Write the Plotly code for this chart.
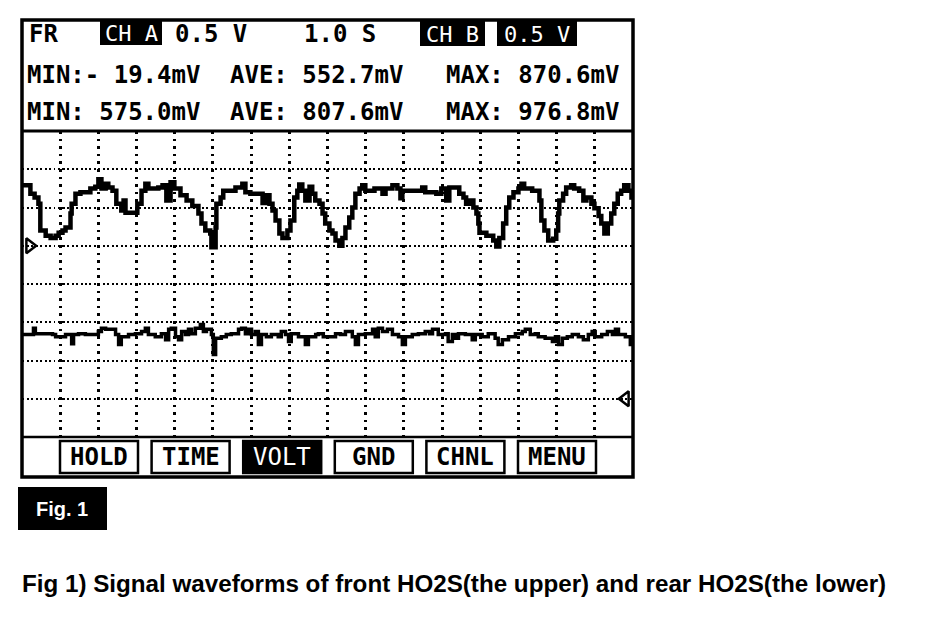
import plotly.graph_objects as go

W, H = 944, 622
PAGE_MARGIN = 8  # default body margin of the html page

# front HO2S (channel A), seconds / volts
CH_A_TIME = [0.00, 0.09, 0.20, 0.22, 0.33, 0.43, 0.48, 0.62, 0.75, 0.88, 0.96, 1.06, 1.14, 1.27, 1.30,
             1.40, 1.53, 1.74, 1.79, 1.92, 2.00, 2.08, 2.19, 2.26, 2.37, 2.47, 2.60, 2.66, 2.71, 2.97,
             3.02, 3.13, 3.23, 3.31, 3.57, 3.68, 3.78, 3.89, 3.99, 4.15, 4.31, 4.46, 4.62, 4.70, 4.80,
             4.93, 4.96, 5.07, 5.09, 5.20, 5.27, 5.43, 5.59, 5.77, 5.85, 5.98, 6.22, 6.30, 6.37, 6.48,
             6.56, 6.64, 6.74, 6.82, 6.95, 7.03, 7.13, 7.21, 7.26, 7.34, 7.42, 7.53, 7.60, 7.68, 7.79,
             7.87, 7.94, 8.05, 8.13, 8.21, 8.31, 8.39, 8.47, 8.57, 8.65, 8.73, 8.84, 8.91, 8.99, 9.23,
             9.44, 9.52, 9.70, 9.83, 9.91, 9.96, 10.30, 10.48, 10.56, 10.85, 10.98, 11.11, 11.19, 11.37,
             11.45, 11.56, 11.63, 11.71, 11.82, 11.90, 11.95, 11.98, 12.16, 12.34, 12.42, 12.50, 12.60,
             12.68, 12.76, 12.87, 13.00, 13.08, 13.15, 13.36, 13.55, 13.60, 13.68, 13.78, 13.91, 13.99,
             14.04, 14.07, 14.17, 14.25, 14.38, 14.46, 14.59, 14.70, 14.78, 14.91, 14.99, 15.10, 15.17,
             15.25, 15.34, 15.43, 15.51, 15.60, 15.69, 15.77, 15.88, 15.96, 16.00]
CH_A_VOLT = [0.79, 0.79, 0.79, 0.68, 0.63, 0.55, 0.20, 0.13, 0.10, 0.13, 0.17, 0.20, 0.24, 0.42, 0.55,
             0.68, 0.70, 0.70, 0.75, 0.77, 0.87, 0.75, 0.81, 0.76, 0.72, 0.55, 0.46, 0.59, 0.43, 0.43,
             0.55, 0.72, 0.81, 0.75, 0.76, 0.79, 0.59, 0.83, 0.75, 0.66, 0.59, 0.52, 0.42, 0.29, 0.20,
             0.16, -0.02, 0.24, 0.55, 0.63, 0.72, 0.72, 0.76, 0.81, 0.70, 0.68, 0.68, 0.56, 0.66, 0.55,
             0.46, 0.33, 0.16, 0.10, 0.20, 0.33, 0.63, 0.72, 0.80, 0.72, 0.59, 0.77, 0.68, 0.59, 0.55,
             0.42, 0.29, 0.20, 0.16, 0.07, 0.00, 0.10, 0.24, 0.37, 0.50, 0.68, 0.75, 0.79, 0.72, 0.75,
             0.68, 0.75, 0.79, 0.75, 0.62, 0.72, 0.72, 0.76, 0.70, 0.68, 0.75, 0.59, 0.76, 0.76,
             0.68, 0.63, 0.55, 0.59, 0.50, 0.42, 0.29, 0.17, 0.13, 0.07, -0.01, 0.10, 0.29,
             0.50, 0.63, 0.70, 0.75, 0.81, 0.75, 0.72, 0.59, 0.33, 0.20, 0.07, 0.09, 0.20,
             0.42, 0.59, 0.68, 0.76, 0.79, 0.75, 0.72, 0.59, 0.63, 0.55, 0.49, 0.39, 0.29,
             0.16, 0.29, 0.42, 0.55, 0.68, 0.72, 0.79, 0.72, 0.63, 0.63]

# rear HO2S (channel B), seconds / volts
CH_B_TIME = [0.00, 0.09, 0.25, 0.30, 0.35, 0.69, 0.80, 0.88, 1.03, 1.14, 1.30, 1.35, 1.48, 1.66, 1.92,
             2.00, 2.08, 2.19, 2.34, 2.45, 2.53, 2.60, 2.79, 2.97, 3.13, 3.23, 3.31, 3.49, 3.65, 3.76,
             3.84, 3.91, 4.02, 4.10, 4.18, 4.28, 4.36, 4.44, 4.54, 4.67, 4.75, 4.83, 4.96, 5.01, 5.07,
             5.22, 5.35, 5.48, 5.67, 5.75, 5.85, 5.93, 6.01, 6.11, 6.19, 6.27, 6.40, 6.53, 6.71, 6.79,
             6.90, 6.98, 7.05, 7.24, 7.42, 7.50, 7.69, 7.76, 7.89, 8.13, 8.21, 8.34, 8.47, 8.65, 8.73,
             8.81, 8.99, 9.18, 9.25, 9.33, 9.44, 9.57, 9.70, 9.86, 9.96, 10.04, 10.22, 10.38, 10.56,
             10.67, 10.75, 10.90, 11.09, 11.16, 11.27, 11.35, 11.43, 11.61, 11.79, 11.87, 12.05, 12.21,
             12.39, 12.47, 12.58, 12.74, 12.92, 13.10, 13.18, 13.31, 13.44, 13.52, 13.70, 13.89, 13.97,
             14.05, 14.15, 14.28, 14.41, 14.57, 14.70, 14.83, 14.93, 15.01, 15.18, 15.33, 15.46, 15.54,
             15.62, 15.80, 15.93, 16.00]
CH_B_VOLT = [0.84, 0.84, 0.84, 0.92, 0.85, 0.85, 0.84, 0.81, 0.81, 0.84, 0.72, 0.84, 0.85, 0.84, 0.84,
             0.88, 0.92, 0.91, 0.91, 0.84, 0.71, 0.81, 0.84, 0.85, 0.88, 0.92, 0.84, 0.81, 0.85, 0.77,
             0.91, 0.92, 0.81, 0.77, 0.88, 0.84, 0.91, 0.85, 0.92, 0.97, 0.88, 0.91, 0.84, 0.58, 0.79,
             0.81, 0.84, 0.85, 0.91, 0.92, 0.85, 0.91, 0.84, 0.88, 0.71, 0.84, 0.81, 0.84, 0.81, 0.88,
             0.84, 0.75, 0.85, 0.81, 0.71, 0.81, 0.84, 0.85, 0.81, 0.81, 0.85, 0.84, 0.88, 0.81, 0.71,
             0.84, 0.85, 0.91, 0.81, 0.92, 0.88, 0.91, 0.84, 0.81, 0.71, 0.81, 0.84, 0.85, 0.88,
             0.85, 0.91, 0.84, 0.85, 0.75, 0.84, 0.79, 0.85, 0.84, 0.77, 0.84, 0.81, 0.85,
             0.79, 0.71, 0.77, 0.81, 0.85, 0.88, 0.91, 0.84, 0.85, 0.81, 0.79, 0.75, 0.81,
             0.71, 0.79, 0.81, 0.84, 0.81, 0.77, 0.84, 0.88, 0.81, 0.84, 0.88, 0.84, 0.91,
             0.84, 0.81, 0.71, 0.71]

HEADER_LABELS = ["FR", "CH A", "0.5 V", "1.0 S", "CH B", "0.5 V"]
CH_A_STATS = ["MIN:- 19.4mV", "AVE: 552.7mV", "MAX: 870.6mV"]
CH_B_STATS = ["MIN: 575.0mV", "AVE: 807.6mV", "MAX: 976.8mV"]
BUTTONS = ["HOLD", "TIME", "VOLT", "GND", "CHNL", "MENU"]
FIG_LABEL = "Fig. 1"
CAPTION = "Fig 1) Signal waveforms of front HO2S(the upper) and rear HO2S(the lower)"

MONO = "DejaVu Sans Mono"
SANS = "Liberation Sans, Arial"


def px(x):
    return (x - PAGE_MARGIN) / W


def py(y):
    return 1 - (y - PAGE_MARGIN) / H


def rect(x0, y0, x1, y1, fill=None, width=2):
    return dict(type="rect", xref="paper", yref="paper", x0=px(x0), x1=px(x1), y0=py(y1), y1=py(y0),
                line=dict(color="black", width=width), fillcolor=fill or "rgba(0,0,0,0)", layer="above")


def hline(y, x0, x1, width=3):
    return dict(type="line", xref="paper", yref="paper", x0=px(x0), x1=px(x1), y0=py(y), y1=py(y),
                line=dict(color="black", width=width), layer="above")


def label(x, y, text, anchor="left", color="black", bold=True, size=24, family=MONO):
    return dict(xref="paper", yref="paper", x=px(x), y=py(y), text=f"<b>{text}</b>" if bold else text,
                xanchor=anchor, yanchor="middle", showarrow=False,
                font=dict(family=family, size=size, color=color))


fig = go.Figure()
fig.add_trace(go.Scatter(x=CH_A_TIME, y=CH_A_VOLT, mode="lines", line=dict(color="black", width=4.5, shape="hv"),
                         yaxis="y", showlegend=False, hoverinfo="skip"))
fig.add_trace(go.Scatter(x=CH_B_TIME, y=CH_B_VOLT, mode="lines", line=dict(color="black", width=3.5, shape="hv"),
                         yaxis="y2", showlegend=False, hoverinfo="skip"))
# ground level markers
fig.add_trace(go.Scatter(x=[0.2], y=[0], mode="markers", yaxis="y", cliponaxis=False, showlegend=False,
                         marker=dict(symbol="triangle-right-open", size=13, color="black", line=dict(width=2.5))))
fig.add_trace(go.Scatter(x=[15.8], y=[0], mode="markers", yaxis="y2", cliponaxis=False, showlegend=False,
                         marker=dict(symbol="triangle-left-open", size=13, color="black", line=dict(width=2.5))))

shapes = [
    rect(22, 20, 633, 477, width=3.5),
    hline(131, 22, 633, 3),
    hline(437, 22, 633, 2.5),
    rect(100, 20, 162, 45, fill="black", width=0),
    rect(420, 21, 485, 46, fill="black", width=0),
    rect(497, 21, 577, 46, fill="black", width=0),
    rect(18, 487, 107, 530, fill="black", width=0),
]

annotations = [
    label(27, 34, HEADER_LABELS[0]),
    label(131, 33, HEADER_LABELS[1], anchor="center", color="white", bold=False, size=22),
    label(173, 34, HEADER_LABELS[2]),
    label(302, 34, HEADER_LABELS[3]),
    label(452, 34, HEADER_LABELS[4], anchor="center", color="white", bold=False, size=22),
    label(537, 34, HEADER_LABELS[5], anchor="center", color="white", bold=False, size=22),
]
for row_y, stats in [(75, CH_A_STATS), (112, CH_B_STATS)]:
    annotations.append(label(25, row_y, stats[0]))
    annotations.append(label(405, row_y, stats[1], anchor="right"))
    annotations.append(label(621, row_y, stats[2], anchor="right"))

for i, name in enumerate(BUTTONS):
    x0 = 60 + i * 91.6
    inverted = name == "VOLT"
    shapes.append(rect(x0, 441, x0 + 78, 473, fill="black" if inverted else None, width=2.5))
    annotations.append(label(x0 + 39, 457, name, anchor="center", color="white" if inverted else "black",
                             bold=not inverted, size=24))

annotations.append(label(62, 509, FIG_LABEL, anchor="center", color="white", bold=True, size=20, family=SANS))
annotations.append(label(20, 583, CAPTION, bold=True, size=24.2, family=SANS))

fig.update_layout(
    width=W,
    height=H,
    margin=dict(l=0, r=0, t=0, b=0),
    paper_bgcolor="white",
    plot_bgcolor="white",
    xaxis=dict(domain=[px(22), px(633)], range=[0, 16], tick0=0, dtick=1, showgrid=True, gridcolor="black",
               gridwidth=2.5, griddash="2.5px,5.1px", showticklabels=False, ticks="", zeroline=False,
               showline=False, fixedrange=True),
    yaxis=dict(domain=[py(437), py(131)], range=[-2.5, 1.5], tick0=0, dtick=0.5, showgrid=True,
               gridcolor="black", gridwidth=2, griddash="2px,2.5px", showticklabels=False, ticks="",
               zeroline=False, showline=False, fixedrange=True),
    yaxis2=dict(domain=[py(437), py(131)], range=[-0.5, 3.5], overlaying="y", visible=False,
                fixedrange=True),
    shapes=shapes,
    annotations=annotations,
)

fig.write_html("out.html")
